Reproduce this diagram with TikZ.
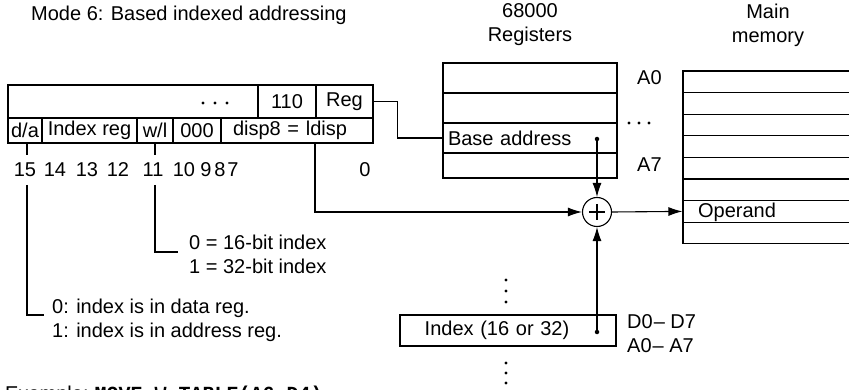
\documentclass[tikz,border=0pt]{standalone}
\usepackage{fontspec}
\setmainfont{Liberation Sans}
\setmonofont{Liberation Mono}
\usetikzlibrary{arrows.meta,calc}
\begin{document}
\begin{tikzpicture}[x=1pt,y=-1pt,
  txt/.style={font=\fontsize{20}{24}\selectfont, inner sep=0pt},
  cell/.style={draw, line width=1.1pt, txt, inner sep=0pt},
  ln/.style={line width=1.1pt},
  arr/.style={line width=1.1pt, -{Latex[length=14pt,width=9pt]}},
  dotmark/.style={fill, circle, inner sep=0pt, minimum size=3.4pt}]
\useasboundingbox (0,0) rectangle (849,390);
% title
\node[txt, anchor=west] (title) at (31,15) {Mode 6: Based indexed addressing};
\node[txt, align=center] (regtitle) at (530,25) {68000\\Registers};
\node[txt, align=center] (memtitle) at (768,25) {Main\\memory};
% instruction word, top row
\node[cell, minimum width=250pt, minimum height=33pt] (w1) at (133,101.5) {};
\node[cell, minimum width=58pt, minimum height=33pt] (w2) at (287,101.5) {110};
\node[cell, minimum width=57pt, minimum height=33pt] (reg) at (344.5,101.5) {Reg};
\node[dotmark] (wd1) at (203,103) {};
\node[dotmark] (wd2) at (215,103) {};
\node[dotmark] (wd3) at (227,103) {};
% instruction word, bottom row
\node[cell, minimum width=34pt, minimum height=25pt] (da) at (25,130.5) {d/a};
\node[cell, minimum width=95pt, minimum height=25pt] (ix) at (89.5,130.5) {Index reg};
\node[cell, minimum width=36pt, minimum height=25pt] (wl) at (155,130.5) {w/l};
\node[cell, minimum width=48pt, minimum height=25pt] (zz) at (197,130.5) {000};
\node[cell, minimum width=152pt, minimum height=25pt, text width=140pt, align=center] (disp) at (297,130.5) {\hspace*{-14pt}disp8 = ldisp};
% bit numbers
\node[txt] (b15) at (25,170) {15};
\node[txt] (b14) at (55,170) {14};
\node[txt] (b13) at (87,170) {13};
\node[txt] (b12) at (118,170) {12};
\node[txt] (b11) at (153,170) {11};
\node[txt] (b10) at (184,170) {10};
\node[txt] (b9) at (206,170) {9};
\node[txt] (b8) at (220,170) {8};
\node[txt] (b7) at (233,170) {7};
\node[txt] (b0) at (365,170) {0};
% ticks and leaders
\coordinate (t15a) at (27,143);
\coordinate (t15b) at (27,155);
\coordinate (t15c) at (27,185);
\coordinate (t15d) at (44,315);
\coordinate (t11a) at (155,143);
\coordinate (t11b) at (155,155);
\coordinate (t11c) at (155,185);
\coordinate (t11d) at (178,252);
\draw[ln] (t15a) -- (t15b);
\draw[ln] (t15c) |- (t15d);
\draw[ln] (t11a) -- (t11b);
\draw[ln] (t11c) |- (t11d);
\node[txt, anchor=west, align=left] (wltxt) at (189,254.5) {0 = 16-bit index\\[0pt]1 = 32-bit index};
\node[txt, anchor=west, align=left] (datxt) at (52,320) {0: index is in data reg.\\[0pt]1: index is in address reg.};
% registers
\node[cell, minimum width=174pt, minimum height=30pt] (r0) at (530,78) {};
\node[cell, minimum width=174pt, minimum height=30pt] (r1) at (530,108) {};
\node[cell, minimum width=174pt, minimum height=30pt, text width=164pt, align=left] (r2) at (530,138) {Base address};
\node[cell, minimum width=174pt, minimum height=25pt] (r3) at (530,165.5) {};
\node[txt, anchor=west] (a0) at (637,78) {A0};
\node[txt, anchor=west] (a7) at (637,165) {A7};
\node[dotmark] (rd1) at (629,123) {};
\node[dotmark] (rd2) at (639,123) {};
\node[dotmark] (rd3) at (649,123) {};
% memory
\foreach \k in {0,...,7} {
  \node[cell, minimum width=172pt, minimum height=21.6pt] (m\k) at (769,{81.8+21.6*\k}) {};
}
\node[txt] (operand) at (737,212) {Operand};
% adder
\node[draw, circle, line width=1.1pt, minimum size=29pt, inner sep=0pt] (adder) at (597,212) {};
\draw[ln] ($(adder.center)+(-8,0)$) -- ($(adder.center)+(8,0)$);
\draw[ln] ($(adder.center)+(0,-8)$) -- ($(adder.center)+(0,8)$);
% index register
\node[cell, minimum width=216pt, minimum height=31pt, text width=206pt, align=center] (index) at (508,330.5) {\hspace*{-22pt}Index (16 or 32)};
\node[txt, anchor=west, align=left] (dalbl) at (627,334) {D0\hspace{1pt}– D7\\[0pt]A0\hspace{1pt}– A7};
\foreach \y/\n in {280/u1,291/u2,302/u3,363/v1,373/v2,383/v3} {
  \node[dotmark] (\n) at (506,\y) {};
}
% connectors
\coordinate (bdot) at (597,139);
\coordinate (idot) at (597,332);
\coordinate (dtap) at (315,143);
\draw[ln] (reg.east) -- ++(24,0) |- (r2.west);
\draw[arr] (bdot) -- (adder.north);
\draw[arr] (idot) -- (adder.south);
\draw[arr] (dtap) |- (adder.west);
\draw[arr] (adder.east) -- (m6.west);
\node[dotmark, minimum size=4.5pt] (bdotm) at (bdot) {};
\node[dotmark, minimum size=4.5pt] (idotm) at (idot) {};
% example (cut by the page edge, as in the reference)
\node[txt, anchor=base west] (example) at (5,400) {Example:\hspace{6pt}{\ttfamily\bfseries MOVE.W TABLE(A6,D4)}};
\end{tikzpicture}
\end{document}
